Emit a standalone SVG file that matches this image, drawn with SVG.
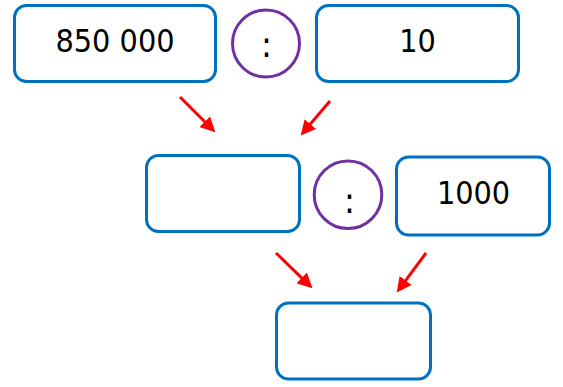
<svg xmlns="http://www.w3.org/2000/svg" width="563" height="387" viewBox="0 0 563 387">
<style>
.box{fill:#fff;stroke:#0070C0;stroke-width:3}
.circ{fill:#fff;stroke:#7030A0;stroke-width:3}
.t{font-family:"DejaVu Sans Condensed","DejaVu Sans",sans-serif;font-size:32px;fill:#000;text-anchor:middle}
.c{font-family:"DejaVu Sans Condensed","DejaVu Sans",sans-serif;font-size:36px;fill:#000;text-anchor:middle}
.arr{stroke:#FF0000;stroke-width:3;fill:none;marker-end:url(#ah)}
</style>
<defs>
<marker id="ah" viewBox="0 0 10 10" refX="4.3" refY="5" markerWidth="15" markerHeight="15" markerUnits="userSpaceOnUse" orient="auto">
<path d="M0,0 L10,5 L0,10 z" fill="#FF0000"/>
</marker>
</defs>
<rect width="563" height="387" fill="#fff"/>
<g id="n1"><rect class="box" x="14.5" y="5.5" width="201" height="76" rx="12"/><text class="t" x="115" y="52">850 000</text></g>
<g id="op1"><circle class="circ" cx="266" cy="43.5" r="33.5"/><text class="c" x="266.5" y="57">:</text></g>
<g id="n2"><rect class="box" x="316.5" y="5.5" width="202" height="76" rx="12"/><text class="t" x="417.5" y="52">10</text></g>
<g id="n3"><rect class="box" x="146.5" y="155.5" width="153" height="76" rx="12"/></g>
<g id="op2"><circle class="circ" cx="348" cy="194.7" r="33.8"/><text class="c" x="349.5" y="213">:</text></g>
<g id="n4"><rect class="box" x="396.5" y="157" width="153" height="78" rx="12"/><text class="t" x="473.5" y="204">1000</text></g>
<g id="n5"><rect class="box" x="276.5" y="303" width="154" height="76" rx="12"/></g>
<g id="connectors">
<line class="arr" x1="180" y1="97" x2="209.3" y2="126.3"/>
<line class="arr" x1="330" y1="101" x2="306.2" y2="128.9"/>
<line class="arr" x1="276" y1="253" x2="306.3" y2="282.4"/>
<line class="arr" x1="426" y1="253" x2="401.8" y2="285.6"/>
</g>
</svg>
